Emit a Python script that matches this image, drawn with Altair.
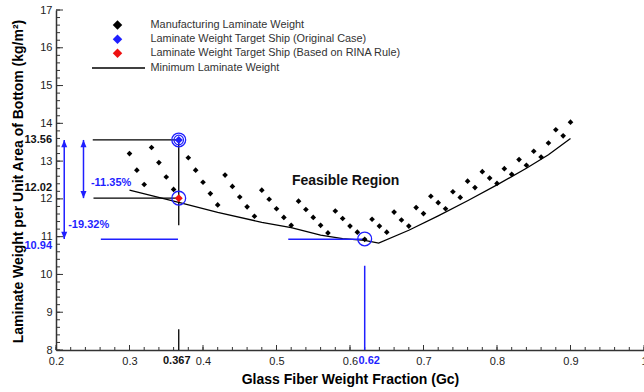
import altair as alt
import pandas as pd

W, H = 588, 340
FONT = "Liberation Sans"
BLUE = "#1f1fff"
RED = "#ee1111"
INK = "#222222"

# ---- data ----
gc_pts = [0.30, 0.31, 0.32, 0.33, 0.34, 0.35, 0.36, 0.38, 0.39, 0.40, 0.41, 0.42, 0.43, 0.44,
          0.45, 0.46, 0.47, 0.48, 0.49, 0.50, 0.51, 0.52, 0.53, 0.54, 0.55, 0.56, 0.57, 0.58,
          0.59, 0.60, 0.61, 0.62, 0.63, 0.64, 0.65, 0.66, 0.67, 0.68, 0.69, 0.70, 0.71, 0.72,
          0.73, 0.74, 0.75, 0.76, 0.77, 0.78, 0.79, 0.80, 0.81, 0.82, 0.83, 0.84, 0.85, 0.86,
          0.87, 0.88, 0.89, 0.90]
w_pts = [13.20, 12.76, 12.38, 13.36, 12.96, 12.58, 12.25, 13.09, 12.76, 12.44, 12.14, 11.84, 12.63, 12.33,
         12.05, 11.79, 11.54, 12.23, 11.99, 11.74, 11.51, 11.30, 11.94, 11.72, 11.51, 11.30, 11.10, 11.68,
         11.48, 11.28, 11.12, 10.93, 11.46, 11.28, 11.12, 11.65, 11.44, 11.28, 11.77, 11.61, 12.07, 11.90,
         11.74, 12.19, 12.04, 12.47, 12.30, 12.72, 12.55, 12.41, 12.80, 12.65, 13.04, 12.89, 13.26, 13.11,
         13.48, 13.83, 13.67, 14.03]

gc_min = [0.30, 0.367, 0.42, 0.48, 0.52, 0.56, 0.59, 0.62, 0.639, 0.68, 0.72, 0.76, 0.80, 0.84, 0.87, 0.90]
w_min = [12.23, 11.91, 11.64, 11.38, 11.24, 11.04, 10.95, 10.90, 10.83, 11.17, 11.55, 11.95, 12.37, 12.81, 13.17, 13.60]

orig_gc, orig_w = [0.367], [13.56]
rina_gc, rina_w = [0.367], [12.02]
opt_gc, opt_w = [0.62], [10.94]

x_tick_values = [0.2, 0.3, 0.4, 0.5, 0.6, 0.7, 0.8, 0.9, 1.0]
y_tick_values = [8, 9, 10, 11, 12, 13, 14, 15, 16, 17]
x_minor = [round(0.2 + 0.02 * i, 2) for i in range(41)]
y_minor = [round(8 + 0.2 * i, 1) for i in range(46)]

legend_labels = ["Manufacturing Laminate Weight",
                 "Laminate Weight Target Ship (Original Case)",
                 "Laminate Weight Target Ship (Based on RINA Rule)",
                 "Minimum Laminate Weight"]

# guide segments (black and blue)
blk_x1 = [0.250, 0.251, 0.367, 0.367]
blk_x2 = [0.367, 0.367, 0.367, 0.367]
blk_y1 = [13.56, 12.02, 13.56, 8.0]
blk_y2 = [13.56, 12.02, 11.30, 8.55]

blu_x1 = [0.261, 0.516, 0.62, 0.2112, 0.2374]
blu_x2 = [0.366, 0.620, 0.62, 0.2112, 0.2374]
blu_y1 = [10.93, 10.93, 8.0, 13.56, 13.56]
blu_y2 = [10.93, 10.93, 10.23, 10.94, 12.02]

arrow_x = [0.2112, 0.2374]
arrow_top = [13.56, 13.56]
arrow_bot = [10.94, 12.02]

pct_text = ["-11.35%", "-19.32%"]
pct_x = [0.2475, 0.2166]
pct_y = [12.42, 11.30]

region_text = ["Feasible Region"]
region_x = [0.521]
region_y = [12.47]

ylab_text = ["13.56", "12.02", "10.94"]
ylab_val = [13.56, 12.02, 10.94]

xscale = alt.Scale(domain=[0.2, 1.0], nice=False, zero=False)
yscale = alt.Scale(domain=[8, 17], nice=False, zero=False)

x_axis = alt.Axis(
    values=x_tick_values, format=".1~f", ticks=False, tickSize=0, grid=False,
    labelFont=FONT, labelFontSize=11, labelColor=INK, labelPadding=5,
    labelFlush=False, labelOverlap=False,
    domainColor="#333333", domainWidth=1.5,
    title="Glass Fiber Weight Fraction (Gc)", titleFont=FONT, titleFontSize=14,
    titleFontWeight="bold", titleColor="black", titleBaseline="alphabetic", titleY=33)
y_axis = alt.Axis(
    values=y_tick_values, format="d", ticks=False, tickSize=0, grid=False,
    labelFont=FONT, labelFontSize=11, labelColor=INK, labelPadding=4,
    labelFlush=False, labelOverlap=False,
    domainColor="#333333", domainWidth=1.5,
    title="Laminate Weight per Unit Area of Bottom (kg/m²)", titleFont=FONT, titleFontSize=14,
    titleFontWeight="bold", titleColor="black", titleBaseline="alphabetic", titleX=-34, titleY=171)

X = lambda f: alt.X(f, type="quantitative", scale=xscale, axis=x_axis)
Y = lambda f: alt.Y(f, type="quantitative", scale=yscale, axis=y_axis)

pts_df = pd.DataFrame({"gc": gc_pts, "w": w_pts})
layers = []

# inward ticks
ymin_df = pd.DataFrame({"v": y_minor})
ymaj_df = pd.DataFrame({"v": y_tick_values})
xmin_df = pd.DataFrame({"v": x_minor})
xmaj_df = pd.DataFrame({"v": x_tick_values})
layers.append(alt.Chart(ymin_df).mark_rule(color="#333333", strokeWidth=1).encode(
    y=Y("v"), x=alt.value(0), x2=alt.value(4)))
layers.append(alt.Chart(ymaj_df).mark_rule(color="#333333", strokeWidth=1).encode(
    y=Y("v"), x=alt.value(0), x2=alt.value(7)))
layers.append(alt.Chart(xmin_df).mark_rule(color="#333333", strokeWidth=1).encode(
    x=X("v"), y=alt.value(H), y2=alt.value(H - 3)))
layers.append(alt.Chart(xmaj_df).mark_rule(color="#333333", strokeWidth=1).encode(
    x=X("v"), y=alt.value(H), y2=alt.value(H - 5)))

# minimum curve
min_df = pd.DataFrame({"gc": gc_min, "w": w_min})
layers.append(alt.Chart(min_df).mark_line(color="black", strokeWidth=1.3).encode(
    x=X("gc"), y=Y("w")))

# black guide segments
blk_df = pd.DataFrame({"x1": blk_x1, "x2": blk_x2, "y1": blk_y1, "y2": blk_y2})
layers.append(alt.Chart(blk_df).mark_rule(color="black", strokeWidth=1.3).encode(
    x=X("x1"), x2="x2:Q", y=Y("y1"), y2="y2:Q"))

# blue guide segments
blu_df = pd.DataFrame({"x1": blu_x1, "x2": blu_x2, "y1": blu_y1, "y2": blu_y2})
layers.append(alt.Chart(blu_df).mark_rule(color=BLUE, strokeWidth=1.5).encode(
    x=X("x1"), x2="x2:Q", y=Y("y1"), y2="y2:Q"))

# arrow heads
up_df = pd.DataFrame({"x": arrow_x, "y": arrow_top})
dn_df = pd.DataFrame({"x": arrow_x, "y": arrow_bot})
layers.append(alt.Chart(up_df).mark_point(shape="M0,0L-0.5,1.2L0.5,1.2Z", size=144, filled=True,
                                          color=BLUE, opacity=1).encode(x=X("x"), y=Y("y")))
layers.append(alt.Chart(dn_df).mark_point(shape="M0,0L-0.5,-1.2L0.5,-1.2Z", size=144, filled=True,
                                          color=BLUE, opacity=1).encode(x=X("x"), y=Y("y")))

# manufacturing points
layers.append(alt.Chart(pts_df).mark_point(shape="diamond", size=32, filled=True, color="black",
                                           opacity=1).encode(x=X("gc"), y=Y("w")))

# target points
orig_df = pd.DataFrame({"gc": orig_gc, "w": orig_w})
rina_df = pd.DataFrame({"gc": rina_gc, "w": rina_w})
opt_df = pd.DataFrame({"gc": opt_gc, "w": opt_w})
layers.append(alt.Chart(orig_df).mark_point(shape="diamond", size=64, filled=True, color=BLUE,
                                            opacity=1).encode(x=X("gc"), y=Y("w")))
layers.append(alt.Chart(rina_df).mark_point(shape="diamond", size=64, filled=True, color=RED,
                                            opacity=1).encode(x=X("gc"), y=Y("w")))
ring_df = pd.DataFrame({"gc": orig_gc + rina_gc + opt_gc, "w": orig_w + rina_w + opt_w})
layers.append(alt.Chart(ring_df).mark_point(shape="circle", size=190, filled=False, color=BLUE,
                                            strokeWidth=1.3, opacity=1).encode(x=X("gc"), y=Y("w")))
layers.append(alt.Chart(orig_df).mark_point(shape="circle", size=90, filled=False, color=BLUE,
                                            strokeWidth=1.2, opacity=1).encode(x=X("gc"), y=Y("w")))

# percentage annotations
pct_df = pd.DataFrame({"t": pct_text, "x": pct_x, "y": pct_y})
layers.append(alt.Chart(pct_df).mark_text(align="left", baseline="middle", font=FONT, fontSize=11,
                                          fontWeight="bold", color=BLUE).encode(
    x=X("x"), y=Y("y"), text="t:N"))

reg_df = pd.DataFrame({"t": region_text, "x": region_x, "y": region_y})
layers.append(alt.Chart(reg_df).mark_text(align="left", baseline="middle", font=FONT, fontSize=14,
                                          fontWeight="bold", color="#111111").encode(
    x=X("x"), y=Y("y"), text="t:N"))

# special axis labels
ylab_df = pd.DataFrame({"t": ylab_text, "v": ylab_val})
for i, (dy, col) in enumerate([(0, "#111111"), (-10.5, "#111111"), (7.5, BLUE)]):
    layers.append(alt.Chart(ylab_df.iloc[[i]]).mark_text(
        align="right", baseline="middle", font=FONT, fontSize=11, fontWeight="bold",
        color=col, dy=dy).encode(x=alt.value(-4), y=Y("v"), text="t:N"))

xlab_df = pd.DataFrame({"t": ["0.367", "0.62"], "v": [orig_gc[0], opt_gc[0]]})
for i, (dx, col) in enumerate([(-2, "#111111"), (4.5, BLUE)]):
    layers.append(alt.Chart(xlab_df.iloc[[i]]).mark_text(
        align="center", baseline="middle", font=FONT, fontSize=11, fontWeight="bold",
        color=col, dx=dx).encode(x=X("v"), y=alt.value(H + 11), text="t:N"))

# manual legend
leg_rows = [15, 29.3, 43.3, 58]
leg_colors = ["black", BLUE, RED]
for i in range(3):
    layers.append(alt.Chart(pd.DataFrame({"a": [0]})).mark_point(
        shape="diamond", size=90, filled=True, color=leg_colors[i], opacity=1).encode(
        x=alt.value(61.5), y=alt.value(leg_rows[i])))
layers.append(alt.Chart(pd.DataFrame({"a": [0]})).mark_rule(color="black", strokeWidth=1.3).encode(
    x=alt.value(36), x2=alt.value(89), y=alt.value(leg_rows[3])))
for i, lab in enumerate(legend_labels):
    layers.append(alt.Chart(pd.DataFrame({"t": [lab]})).mark_text(
        align="left", baseline="middle", font=FONT, fontSize=10.9, color="#333333").encode(
        x=alt.value(94.5), y=alt.value(leg_rows[i]), text="t:N"))

chart = alt.layer(*layers).properties(
    width=W, height=H,
    padding={"left": 56, "top": 10, "right": 0, "bottom": 42},
    autosize=alt.AutoSizeParams(type="none"),
    background="white",
).configure_view(stroke=None)

chart.save("out.html", embed_options={"renderer": "svg", "actions": False})
